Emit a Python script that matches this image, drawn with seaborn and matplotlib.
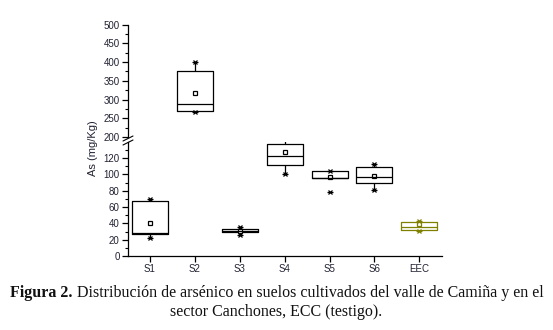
import numpy as np
import pandas as pd
import matplotlib
matplotlib.use("Agg")
import matplotlib.pyplot as plt
from matplotlib.ticker import MultipleLocator, FixedLocator
from matplotlib.lines import Line2D
import seaborn as sns

# ---- data ----
samples = ["S1", "S2", "S3", "S4", "S5", "S6", "EEC"]
q1 = [27.5, 270, 29, 112, 95, 90, 31.5]
median = [28.5, 287, 31, 122.5, 95.8, 96.5, 35.5]
q3 = [67, 376, 33, 137, 104, 108.5, 41.5]
whisker_low = [22, 268, 25.5, 101, 95, 80.5, 31]
whisker_high = [70, 400, 35, 144, 104, 112.5, 42.5]
means = [41, 317, 30.5, 127, 97, 98, 38.8]
minimum = [22, 267, 25.5, 101, 79, 80.5, 31]
maximum = [70, 400, 35, 144, 104, 112.5, 43]
colors = ["black"] * 6 + ["#808000"]

rows = []
for s, a, b, c, d, e in zip(samples, whisker_low, q1, median, q3, whisker_high):
    for v in (a, b, c, d, e):
        rows.append({"sample": s, "value": v})
df = pd.DataFrame(rows)

sns.set_theme(style="ticks")
plt.rcParams["font.family"] = ["Liberation Sans", "DejaVu Sans"]

fig = plt.figure(figsize=(5.53, 3.30), dpi=100)
W, H = 553, 330

def fx(x):
    return x / W

def fy(y):
    return 1 - y / H

left, right = fx(128), fx(442)
ax_up = fig.add_axes([left, fy(137), right - left, fy(24.7) - fy(137)])
ax_lo = fig.add_axes([left, fy(256), right - left, fy(141.7) - fy(256)])

palette = dict(zip(samples, colors))
for ax in (ax_up, ax_lo):
    sns.boxplot(data=df, x="sample", y="value", hue="sample", palette=palette,
                order=samples, hue_order=samples, fill=False, whis=(0, 100),
                width=0.8, linewidth=0.9, legend=False, ax=ax,
                capprops={"visible": False}, showfliers=False)
    for i, s in enumerate(samples):
        col = colors[i]
        ax.plot([i], [means[i]], marker="s", ms=3, mfc="white", mec=col, mew=0.9, ls="none")
        for v in (minimum[i], maximum[i]):
            ax.plot([i], [v], marker="x", ms=3.5, mec=col, mew=0.9, ls="none")
            ax.plot([i], [v], marker="_", ms=5, mec=col, mew=0.9, ls="none")
    ax.set_xlim(-0.49, 6.505)
    ax.set_xlabel("")
    ax.set_ylabel("")
    ax.set_facecolor("none")
    for sp in ("top", "right"):
        ax.spines[sp].set_visible(False)
    ax.spines["left"].set_color("black")
    ax.spines["left"].set_linewidth(0.9)
    ax.tick_params(axis="y", which="major", length=4, width=0.9, color="black",
                   labelsize=7, labelcolor="#222233", pad=2)
    ax.tick_params(axis="y", which="minor", length=2, width=0.8, color="black")

ax_up.set_ylim(200, 500)
ax_up.yaxis.set_major_locator(FixedLocator([200, 250, 300, 350, 400, 450, 500]))
ax_up.yaxis.set_minor_locator(MultipleLocator(25))
ax_up.spines["bottom"].set_visible(False)
ax_up.tick_params(axis="x", which="both", bottom=False, labelbottom=False)

ax_lo.set_ylim(0, 140)
ax_lo.yaxis.set_major_locator(FixedLocator([0, 20, 40, 60, 80, 100, 120]))
ax_lo.yaxis.set_minor_locator(FixedLocator([10, 30, 50, 70, 90, 110, 130]))
ax_lo.spines["bottom"].set_color("black")
ax_lo.spines["bottom"].set_linewidth(0.9)
ax_lo.tick_params(axis="x", which="major", length=4, width=0.9, color="black",
                  labelsize=7, labelcolor="#222233", pad=2)

# axis break marks
for y0 in (141, 145):
    fig.add_artist(Line2D([fx(123), fx(133)], [fy(y0), fy(y0 - 5)], color="black", lw=0.8))

fig.text(fx(93), fy(148), "As (mg/Kg)", rotation=90, ha="center", va="center",
         fontsize=8, color="#222233")

# caption
cap_font = ["Liberation Serif", "DejaVu Serif"]
cap_size = 11.5
fig.canvas.draw()
r = fig.canvas.get_renderer()
t_bold = fig.text(0, fy(293), "Figura 2.", fontsize=cap_size, fontweight="bold", family=cap_font,
                  va="center", ha="left", color="#111111")
t_norm = fig.text(0, fy(293), " Distribución de arsénico en suelos cultivados del valle de Camiña y en el",
                  fontsize=cap_size, family=cap_font, va="center", ha="left", color="#111111")
wb = t_bold.get_window_extent(r).width
wn = t_norm.get_window_extent(r).width
x0 = 277 - (wb + wn) / 2
t_bold.set_x(fx(x0))
t_norm.set_x(fx(x0 + wb))
fig.text(fx(276), fy(312), "sector Canchones, ECC (testigo).", fontsize=cap_size, family=cap_font,
         va="center", ha="center", color="#111111")

fig.savefig("out.png", dpi=100)
